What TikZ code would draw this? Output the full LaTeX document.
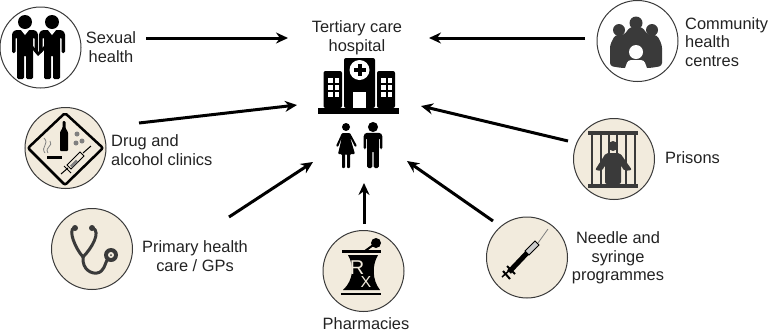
\documentclass[tikz,border=0pt]{standalone}
\usepackage{fontspec}
\setmainfont{Liberation Sans}
\usetikzlibrary{arrows.meta}
\definecolor{cream}{HTML}{F2EBDD}
\definecolor{icongrey}{HTML}{3A3A3A}
\definecolor{labelgrey}{HTML}{222222}
\tikzset{
	ring/.style={circle, draw=icongrey, line width=1pt, minimum size=81pt, inner sep=0pt},
	creamring/.style={ring, fill=cream},
	lbl/.style={align=center, inner sep=0pt, text=labelgrey, font=\fontsize{16.4}{18.7}\selectfont},
	lblleft/.style={lbl, align=left},
	feeder/.style={line width=3pt, -{Stealth[length=12pt,width=11pt]}},
}
\def\manfig[#1](#2){\begin{scope}[shift={(#2)}, scale=#1]
	\fill (0, 0) circle (7);
	\fill[rounded corners=1.5pt] (-13, 31) -- (-13, 11) -- (-10, 8) -- (10, 8) -- (13, 11) -- (13, 31) -- (9.5, 31) -- (9.5, 15) -- (8, 15) -- (8, 57) -- (1, 57) -- (1, 33) -- (-1, 33) -- (-1, 57) -- (-8, 57) -- (-8, 15) -- (-9.5, 15) -- (-9.5, 31) -- cycle;
\end{scope}}

\begin{document}
\begin{tikzpicture}[x=1pt, y=-1pt]
	\useasboundingbox (0, 0) rectangle (769, 333);

	%%%%% RINGS %%%%%
	\node[ring] (sexual) at (40.5, 47.5) {};
	\node[creamring] (drug) at (65.5, 148) {};
	\node[creamring] (primary) at (92, 249) {};
	\node[creamring] (pharmacy) at (363.5, 271) {};
	\node[creamring] (needle) at (527, 257.5) {};
	\node[creamring] (prison) at (614, 159) {};
	\node[ring] (community) at (637.5, 41) {};

	%%%%% LABELS %%%%%
	\node[lbl] (hospitallbl) at (357, 38) {Tertiary care\\hospital};
	\node[lbl] (sexuallbl) at (111, 47) {Sexual\\health};
	\node[lblleft, anchor=west] (druglbl) at (111, 150) {Drug and\\alcohol clinics};
	\node[lbl] (primarylbl) at (195, 256) {Primary health\\care / GPs};
	\node[lbl] (pharmacylbl) at (366, 324) {Pharmacies};
	\node[lbl] (needlelbl) at (618, 258) {Needle and\\syringe\\programmes};
	\node[lblleft, anchor=west] (prisonlbl) at (665, 158) {Prisons};
	\node[lblleft, anchor=west] (communitylbl) at (685, 42) {Community\\health\\centres};

	%%%%% ARROWS %%%%%
	\coordinate (sexualout) at (146, 38);
	\coordinate (sexualin) at (288, 38);
	\coordinate (drugout) at (139, 123);
	\coordinate (drugin) at (297, 105);
	\coordinate (primaryout) at (229, 217);
	\coordinate (primaryin) at (313, 162);
	\coordinate (pharmacyout) at (364, 224);
	\coordinate (pharmacyin) at (364, 183);
	\coordinate (needleout) at (493, 221);
	\coordinate (needlein) at (407, 161);
	\coordinate (prisonout) at (568, 141);
	\coordinate (prisonin) at (421, 106);
	\coordinate (communityout) at (585, 38);
	\coordinate (communityin) at (429, 38);
	\draw[feeder] (sexualout) -- (sexualin);
	\draw[feeder] (drugout) -- (drugin);
	\draw[feeder] (primaryout) -- (primaryin);
	\draw[feeder] (pharmacyout) -- (pharmacyin);
	\draw[feeder] (needleout) -- (needlein);
	\draw[feeder] (prisonout) -- (prisonin);
	\draw[feeder] (communityout) -- (communityin);

	%%%%% HOSPITAL %%%%%
	\fill (318, 108) rectangle (399, 114);
	\fill[rounded corners=2pt] (344, 108) -- (344, 58) -- (375, 58) -- (375, 108) -- cycle;
	\fill[rounded corners=2pt] (323.5, 108) -- (323.5, 71) -- (342, 71) -- (342, 108) -- cycle;
	\fill[rounded corners=2pt] (377, 108) -- (377, 71) -- (395, 71) -- (395, 108) -- cycle;
	\fill[white] (359.5, 70) circle (10);
	\fill (357.5, 64) rectangle (361.5, 76);
	\fill (353.5, 68) rectangle (365.5, 72);
	\fill[white] (353, 92) rectangle (366, 108);
	\foreach \wy in {78, 85, 92} {
		\foreach \wx in {328, 334.5, 381, 387.5} {
			\fill[white] (\wx, \wy) rectangle ++(4.5, 4.5);
		}
	}

	%%%%% HOSPITAL PEOPLE %%%%%
	\fill (346, 127) circle (4);
	\fill[rounded corners=1pt] (342, 133) -- (350, 133) -- (357, 146) -- (355, 147) -- (350, 137) -- (355, 154) -- (350, 154) -- (350, 168) -- (347, 168) -- (347, 154) -- (345, 154) -- (345, 168) -- (342, 168) -- (342, 154) -- (338, 154) -- (342, 137) -- (338, 147) -- (336, 146) -- cycle;
	\manfig[0.72](373, 127)

	%%%%% SEXUAL HEALTH %%%%%
	\manfig[1](25, 22)
	\manfig[1](52, 22)
	\fill (33, 46) -- (38, 52) -- (44, 46) -- (44, 50) -- (38, 56) -- (33, 50) -- cycle;
	\fill[white] (21, 30) -- (29, 30) -- (25, 35) -- cycle;
	\fill[white] (48, 30) -- (56, 30) -- (52, 35) -- cycle;

	%%%%% DRUG AND ALCOHOL %%%%%
	\draw[line width=2.5pt, rounded corners=2pt] (65, 113) -- (103, 148) -- (65, 185) -- (28, 148) -- cycle;
	\fill[rounded corners=1pt] (60, 151) -- (60, 132) -- (62.5, 128) -- (62.5, 121) -- (65.5, 121) -- (65.5, 128) -- (68, 132) -- (68, 151) -- cycle;
	\fill[gray] (77, 134) circle (2.5);
	\fill[gray] (76, 143) circle (2.5);
	\fill[gray] (82, 141) circle (2.5);
	\draw[line width=3pt] (47, 157) -- (62, 157);
	\draw[gray, line width=0.8pt] (45, 153) .. controls (40, 147) and (50, 144) .. (44, 138);
	\draw[gray, line width=0.8pt] (48, 153) .. controls (44, 147) and (54, 146) .. (50, 141);
	\draw[line width=1pt] (61, 174) -- (68, 168);
	\draw[line width=1pt] (83, 153) -- (91, 146);
	\draw[line width=1pt, fill=cream] (67, 165) -- (80, 152) -- (84, 156) -- (71, 169) -- cycle;
	\draw[line width=1pt] (64, 166) -- (71, 173);
	\fill[gray] (70, 165.5) -- (76, 159.5) -- (78, 161.5) -- (72, 167.5) -- cycle;

	%%%%% STETHOSCOPE %%%%%
	\fill[icongrey] (75, 228) circle (3);
	\fill[icongrey] (92, 228) circle (3);
	\draw[icongrey, line width=3pt] (74, 228) .. controls (68, 230) and (75, 248) .. (83, 257);
	\draw[icongrey, line width=3pt] (93, 228) .. controls (101, 232) and (92, 248) .. (83, 257);
	\draw[icongrey, line width=3pt] (83, 257) .. controls (82, 270) and (92, 274) .. (97, 273) .. controls (104, 272) and (105, 264) .. (107, 260);
	\fill[icongrey] (111, 255) circle (7);
	\fill[cream] (111, 255) circle (3);
	\fill[icongrey] (111, 255) circle (1);

	%%%%% PHARMACY %%%%%
	\fill (342, 250) rectangle (381, 252.5);
	\fill (341, 292.5) rectangle (381, 295);
	\fill (376, 243) circle (5);
	\draw[line width=2pt] (376, 243) -- (365, 251);
	\fill (348, 255) .. controls (354, 265) and (354, 280) .. (343, 290) -- (380, 290) .. controls (372, 280) and (372, 265) .. (378, 255) -- cycle;
	\node[text=cream, inner sep=0pt, font=\fontsize{20}{20}\selectfont] (rxr) at (357, 267.5) {R};
	\node[text=cream, inner sep=0pt, font=\fontsize{16}{16}\selectfont] (rxx) at (366, 281.5) {X};

	%%%%% SYRINGE %%%%%
	\draw[line width=0.8pt, gray] (538, 243) -- (548, 229);
	\draw[line width=0.8pt, fill=gray!40] (525, 251) -- (535, 241) -- (539, 245) -- (529, 255) -- cycle;
	\draw[line width=5pt] (509, 272) -- (527, 253);
	\draw[line width=1.5pt] (502, 277) -- (512, 268);
	\draw[line width=2pt] (503, 271) -- (510, 279);
	\draw[line width=2pt] (507, 266) -- (515, 274);

	%%%%% PRISON %%%%%
	\fill[icongrey] (613, 146) circle (5);
	\fill[icongrey, rounded corners=2pt] (595, 170) -- (606, 153) -- (620, 153) -- (632, 170) -- (624, 171) -- (621, 165) -- (621, 184) -- (605, 184) -- (605, 165) -- (602, 171) -- cycle;
	\fill[icongrey] (588, 131) rectangle (638, 135);
	\fill[icongrey] (588, 184) rectangle (638, 188);
	\foreach \bx in {592, 601, 609, 617, 626, 635} {
		\draw[icongrey, line width=2.5pt] (\bx, 133) -- (\bx, 186);
	}

	%%%%% COMMUNITY %%%%%
	\fill[icongrey] (619, 30) circle (6);
	\fill[icongrey] (636, 23) circle (6.5);
	\fill[icongrey] (652, 30) circle (6);
	\fill[icongrey, rounded corners=3pt] (610, 66) -- (610, 45) -- (615, 35) -- (624, 35) -- (630, 27) -- (642, 27) -- (648, 35) -- (657, 35) -- (662, 45) -- (662, 66) -- (650, 68) -- (622, 68) -- cycle;
	\fill[white] (636, 52) circle (7);
	\fill[white, rounded corners=3pt] (624, 71) -- (628, 60) -- (644, 60) -- (648, 71) -- cycle;
\end{tikzpicture}
\end{document}
